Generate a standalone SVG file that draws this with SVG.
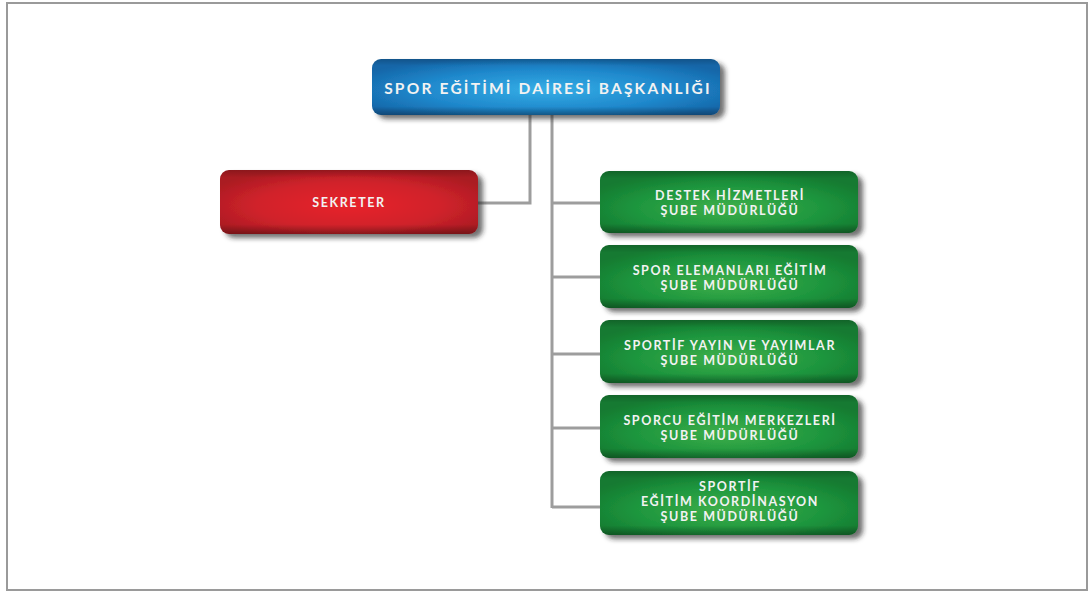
<svg xmlns="http://www.w3.org/2000/svg" width="1089" height="592" viewBox="0 0 1089 592">
  <defs>
    <radialGradient id="gBlue" cx="50%" cy="55%" r="60%">
      <stop offset="0" stop-color="#35aee6"/>
      <stop offset="0.6" stop-color="#1f88cc"/>
      <stop offset="1" stop-color="#1566a8"/>
    </radialGradient>
    <radialGradient id="gRed" cx="50%" cy="55%" r="60%">
      <stop offset="0" stop-color="#e8232b"/>
      <stop offset="0.6" stop-color="#d0232b"/>
      <stop offset="1" stop-color="#aa1a22"/>
    </radialGradient>
    <radialGradient id="gGreen" cx="50%" cy="60%" r="60%">
      <stop offset="0" stop-color="#3fb04a"/>
      <stop offset="0.6" stop-color="#1e963e"/>
      <stop offset="1" stop-color="#137a30"/>
    </radialGradient>
    <linearGradient id="bevel" x1="0" y1="0" x2="0" y2="1">
      <stop offset="0" stop-color="#000" stop-opacity="0.18"/>
      <stop offset="0.12" stop-color="#000" stop-opacity="0"/>
      <stop offset="0.85" stop-color="#000" stop-opacity="0"/>
      <stop offset="1" stop-color="#000" stop-opacity="0.3"/>
    </linearGradient>
    <filter id="shadow" x="-10%" y="-20%" width="125%" height="150%">
      <feDropShadow dx="5" dy="4" stdDeviation="2.5" flood-color="#222" flood-opacity="0.65"/>
    </filter>
  </defs>
  <style>
    .frame { fill: #fff; stroke: #9a9a9a; stroke-width: 2; }
    .link { fill: none; stroke: #9d9d9d; stroke-width: 3; }
    .box { filter: url(#shadow); }
    .bev { fill: url(#bevel); }
    .lbl { font-family: Lato, "Open Sans", "DejaVu Sans", sans-serif; font-weight: 700; fill: #f2f2f2; text-anchor: middle; }
    .big { font-size: 15.5px; letter-spacing: 2.2px; }
    .sm { font-size: 12.5px; letter-spacing: 1.6px; }
  </style>

  <rect class="frame" x="7" y="3" width="1080" height="587"/>

  <!-- connectors -->
  <g id="connectors">
    <polyline class="link" points="530,114 530,203 478,203"/>
    <line class="link" x1="552" y1="114" x2="552" y2="508"/>
    <line class="link" x1="552" y1="203" x2="600" y2="203"/>
    <line class="link" x1="552" y1="277" x2="600" y2="277"/>
    <line class="link" x1="552" y1="354" x2="600" y2="354"/>
    <line class="link" x1="552" y1="428" x2="600" y2="428"/>
    <line class="link" x1="552" y1="507" x2="600" y2="507"/>
  </g>

  <g id="baskanlik">
    <rect class="box" x="372" y="59" width="348" height="56" rx="9" fill="url(#gBlue)"/>
    <rect class="bev" x="372" y="59" width="348" height="56" rx="9"/>
    <text class="lbl big" x="548" y="94">SPOR EĞİTİMİ DAİRESİ BAŞKANLIĞI</text>
  </g>

  <g id="sekreter">
    <rect class="box" x="220" y="170" width="258" height="64" rx="9" fill="url(#gRed)"/>
    <rect class="bev" x="220" y="170" width="258" height="64" rx="9"/>
    <text class="lbl sm" x="349" y="207">SEKRETER</text>
  </g>

  <g id="destek">
    <rect class="box" x="600" y="171" width="258" height="62" rx="9" fill="url(#gGreen)"/>
    <rect class="bev" x="600" y="171" width="258" height="62" rx="9"/>
    <text class="lbl sm" x="730" y="200">DESTEK HİZMETLERİ</text>
    <text class="lbl sm" x="730" y="215">ŞUBE MÜDÜRLÜĞÜ</text>
  </g>

  <g id="spor-elemanlari">
    <rect class="box" x="600" y="245" width="258" height="63" rx="9" fill="url(#gGreen)"/>
    <rect class="bev" x="600" y="245" width="258" height="63" rx="9"/>
    <text class="lbl sm" x="730" y="275">SPOR ELEMANLARI EĞİTİM</text>
    <text class="lbl sm" x="730" y="290">ŞUBE MÜDÜRLÜĞÜ</text>
  </g>

  <g id="sportif-yayin">
    <rect class="box" x="600" y="320" width="258" height="63" rx="9" fill="url(#gGreen)"/>
    <rect class="bev" x="600" y="320" width="258" height="63" rx="9"/>
    <text class="lbl sm" x="730" y="350">SPORTİF YAYIN VE YAYIMLAR</text>
    <text class="lbl sm" x="730" y="365">ŞUBE MÜDÜRLÜĞÜ</text>
  </g>

  <g id="sporcu-egitim">
    <rect class="box" x="600" y="395" width="258" height="63" rx="9" fill="url(#gGreen)"/>
    <rect class="bev" x="600" y="395" width="258" height="63" rx="9"/>
    <text class="lbl sm" x="730" y="425">SPORCU EĞİTİM MERKEZLERİ</text>
    <text class="lbl sm" x="730" y="440">ŞUBE MÜDÜRLÜĞÜ</text>
  </g>

  <g id="sportif-koordinasyon">
    <rect class="box" x="600" y="471" width="258" height="64" rx="9" fill="url(#gGreen)"/>
    <rect class="bev" x="600" y="471" width="258" height="64" rx="9"/>
    <text class="lbl sm" x="730" y="491">SPORTİF</text>
    <text class="lbl sm" x="730" y="506">EĞİTİM KOORDİNASYON</text>
    <text class="lbl sm" x="730" y="521">ŞUBE MÜDÜRLÜĞÜ</text>
  </g>
</svg>
